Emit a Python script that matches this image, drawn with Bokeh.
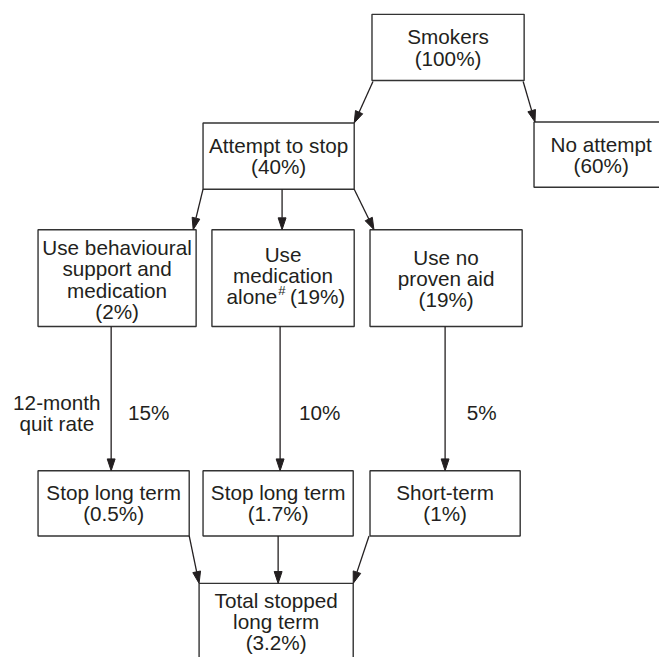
import math
from bokeh.plotting import figure
from bokeh.models import Range1d
from bokeh.embed import file_html
from bokeh.resources import INLINE
from bokeh.core.properties import value

# ---------------- data ----------------
stage_names = ["Smokers", "Attempt to stop", "No attempt",
               "Use behavioural support and medication", "Use medication alone",
               "Use no proven aid", "Stop long term", "Stop long term",
               "Short-term", "Total stopped long term"]
stage_shares = ["100%", "40%", "60%", "2%", "19%", "19%", "0.5%", "1.7%", "1%", "3.2%"]
stage_wraps = [["Smokers"], ["Attempt to stop"], ["No attempt"],
               ["Use behavioural", "support and", "medication"],
               ["Use", "medication", "alone"],
               ["Use no", "proven aid"],
               ["Stop long term"], ["Stop long term"], ["Short-term"],
               ["Total stopped", "long term"]]
flows = [(0, 1), (0, 2), (1, 3), (1, 4), (1, 5), (3, 6), (4, 7), (5, 8), (6, 9), (7, 9), (8, 9)]
quit_rate_label = ["12-month", "quit rate"]
quit_rates = ["15%", "10%", "5%"]

# ---------------- layout (reference pixels) ----------------
box_l = [376, 205, 540, 38, 214, 374, 38, 205, 374, 201]
box_r = [530, 358, 720, 198, 358, 528, 191, 357, 526, 357]
box_t = [14, 124, 123, 232, 232, 232, 476, 476, 476, 590]
box_b = [81, 191, 189, 330, 330, 330, 542, 542, 542, 720]
text_cx = [453, 281.5, 608, 118, 286, 451, 114.5, 281, 450, 279]
text_cy = [47.5, 157.5, 156, 282.5, 278.5, 281.5, 509, 509, 509, 628.5]
line_gap = 21.5
flow_start = [(377, 82), (529, 82), (205, 191), (285, 191), (358, 191),
              (112, 330), (283, 330), (450, 330), (191, 542), (281, 542), (373, 542)]
flow_end = [(358, 124), (541, 123), (195, 232), (285, 232), (378, 232),
            (112, 476), (283, 476), (450, 476), (201, 590), (281, 590), (357, 590)]
rate_x = [150, 323, 487]
rate_y = 417

INK = "#231f20"
FONT = value("Liberation Sans")
FS = "20.7px"

p = figure(width=659, height=657, x_range=Range1d(0, 667), y_range=Range1d(665, 0),
           output_backend="svg", toolbar_location=None, min_border=0,
           outline_line_color=None, background_fill_color="white")
p.axis.visible = False
p.xgrid.visible = False
p.ygrid.visible = False

# boxes
p.quad(left=box_l, right=box_r, top=box_t, bottom=box_b,
       fill_color="white", line_color="#333333", line_width=1.4)

# arrows
xs0, ys0, xs1, ys1, hx, hy = [], [], [], [], [], []
L, W = 12, 4
for (a, b), (x0, y0), (x1, y1) in zip(flows, flow_start, flow_end):
    dx, dy = x1 - x0, y1 - y0
    n = math.hypot(dx, dy)
    ux, uy = dx / n, dy / n
    bx, by = x1 - L * ux, y1 - L * uy
    xs0.append(x0); ys0.append(y0); xs1.append(bx); ys1.append(by)
    hx.append([x1, bx - W * uy, bx + W * uy])
    hy.append([y1, by + W * ux, by - W * ux])
p.segment(x0=xs0, y0=ys0, x1=xs1, y1=ys1, line_color=INK, line_width=1.3)
p.patches(xs=hx, ys=hy, fill_color=INK, line_color=INK, line_width=1)

# box texts
tx, ty, tt = [], [], []
for i, (lines, share) in enumerate(zip(stage_wraps, stage_shares)):
    if i == 4:
        all_lines = lines[:2]  # last line composed separately
        nl = 3
    else:
        all_lines = lines + ["(" + share + ")"]
        nl = len(all_lines)
    y0 = text_cy[i] - (nl - 1) * line_gap / 2
    for k, s in enumerate(all_lines):
        tx.append(text_cx[i]); ty.append(y0 + k * line_gap); tt.append(s)
p.text(x=tx, y=ty, text=tt, text_align="center", text_baseline="middle",
       text_font=FONT, text_font_size=FS, text_color=INK)

# "alone# (19%)" line
y_al = text_cy[4] + line_gap
p.text(x=[280], y=[y_al], text=[stage_wraps[4][2]], text_align="right", text_baseline="middle",
       text_font=FONT, text_font_size=FS, text_color=INK)
p.text(x=[281], y=[y_al - 6], text=["#"], text_align="left", text_baseline="middle",
       text_font=FONT, text_font_size="13px", text_color=INK)
p.text(x=[293], y=[y_al], text=["(" + stage_shares[4] + ")"], text_align="left", text_baseline="middle",
       text_font=FONT, text_font_size=FS, text_color=INK)

# quit-rate labels
p.text(x=[57, 57], y=[rate_y - 10.5, rate_y + 11], text=quit_rate_label, text_align="center",
       text_baseline="middle", text_font=FONT, text_font_size=FS, text_color=INK)
p.text(x=rate_x, y=[rate_y] * 3, text=quit_rates, text_align="center", text_baseline="middle",
       text_font=FONT, text_font_size=FS, text_color=INK)

open("out.html", "w").write(file_html(p, INLINE))
